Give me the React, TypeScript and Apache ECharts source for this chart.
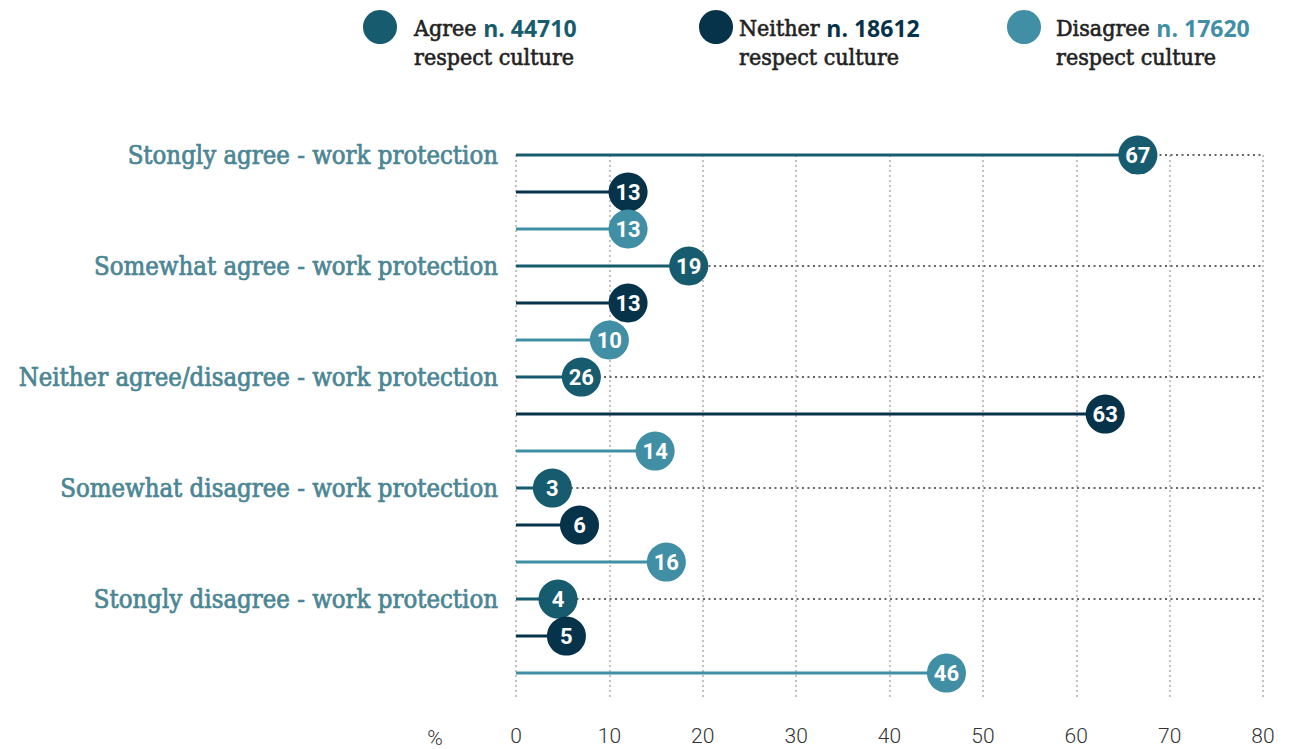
import React, { useEffect, useRef } from "react";
import * as echarts from "echarts";

const categories = [
  "Stongly agree - work protection",
  "Somewhat agree - work protection",
  "Neither agree/disagree - work protection",
  "Somewhat disagree - work protection",
  "Stongly disagree - work protection",
];
const groups = ["Agree", "Neither", "Disagree"];
const groupCounts = ["n. 44710", "n. 18612", "n. 17620"];
const groupColors = ["#175b6e", "#06334a", "#418fa5"];
// positions (x, %), and printed labels
const agreeValues = [66.6, 18.5, 7.0, 3.9, 4.5];
const agreeLabels = ["67", "19", "26", "3", "4"];
const neitherValues = [12.0, 12.0, 63.1, 6.8, 5.4];
const neitherLabels = ["13", "13", "63", "6", "5"];
const disagreeValues = [12.0, 10.0, 14.9, 16.1, 46.1];
const disagreeLabels = ["13", "10", "14", "16", "46"];
const xTicks = [0, 10, 20, 30, 40, 50, 60, 70, 80];

const FONT_SERIF = "'DejaVu Serif Condensed', 'DejaVu Serif', serif";
const FONT_AXIS = "Roboto, 'Liberation Sans Narrow', sans-serif";
const CAT_COLOR = "#4b8694";

export default function App() {
  const ref = useRef<HTMLDivElement>(null);
  useEffect(() => {
    document.body.style.margin = "0";
    const chart = echarts.init(ref.current!, null, { renderer: "svg" });
    const valueSets = [agreeValues, neitherValues, disagreeValues];
    const labelSets = [agreeLabels, neitherLabels, disagreeLabels];
    const rows: any[] = [];
    categories.forEach((_, ci) => {
      groups.forEach((_, gi) => {
        const row = ci * 3 + gi;
        rows.push({
          value: [valueSets[gi][ci], row, labelSets[gi][ci], gi],
          itemStyle: { color: groupColors[gi], opacity: 1 },
        });
      });
    });
    const xMax = xTicks[xTicks.length - 1];
    const guideRows = categories.map((_, ci) => [0, ci * 3]);

    const legendGraphics: any[] = [];
    const legendCircleX = [380, 716, 1024];
    const legendTextX = [414, 739, 1056];
    groups.forEach((g, gi) => {
      legendGraphics.push({
        type: "circle",
        shape: { cx: legendCircleX[gi], cy: 27, r: 17 },
        style: { fill: groupColors[gi] },
      });
      legendGraphics.push({
        type: "text",
        x: legendTextX[gi],
        y: 28,
        style: {
          text: `{a|${g} }{b|${groupCounts[gi]}}`,
          verticalAlign: "middle",
          rich: {
            a: {
              fontFamily: FONT_SERIF,
              fontSize: 23,
              fill: "#222",
              fontWeight: "normal",
              stroke: "#222",
              lineWidth: 0.6,
            },
            b: { fontFamily: "'Open Sans', sans-serif", fontSize: 23, fill: groupColors[gi], fontWeight: "bold" },
          },
        },
      });
      legendGraphics.push({
        type: "text",
        x: legendTextX[gi],
        y: 57,
        style: {
          text: "respect culture",
          fontFamily: FONT_SERIF,
          fontSize: 23,
          fontWeight: "normal",
          fill: "#222",
          stroke: "#222",
          lineWidth: 0.6,
          verticalAlign: "middle",
        },
      });
    });
    legendGraphics.push({
      type: "text",
      x: 435,
      y: 738,
      style: {
        text: "%",
        fontFamily: FONT_AXIS,
        fontSize: 21,
        fontWeight: 300,
        fill: "#333",
        align: "center",
        verticalAlign: "middle",
      },
    });

    chart.setOption({
      animation: false,
      grid: { left: 516, right: 31, top: 155, bottom: 50, containLabel: false },
      xAxis: {
        type: "value",
        min: 0,
        max: xMax,
        interval: 10,
        axisLine: { show: false },
        axisTick: { show: false },
        axisLabel: { color: "#333", fontSize: 21, fontWeight: 300, fontFamily: FONT_AXIS, margin: 26 },
        splitLine: { show: true, lineStyle: { color: "#c2c2c2", width: 2, type: [2, 3] } },
      },
      yAxis: {
        type: "value",
        inverse: true,
        min: 0,
        max: 14.7,
        interval: 3,
        axisLine: { show: false },
        axisTick: { show: false },
        splitLine: { show: false },
        axisLabel: {
          showMaxLabel: false,
          margin: 18,
          color: CAT_COLOR,
          textBorderColor: CAT_COLOR,
          textBorderWidth: 0.7,
          fontSize: 25.5,
          fontWeight: "normal",
          fontFamily: FONT_SERIF,
          formatter: (v: number) => (v % 3 === 0 && v / 3 < categories.length ? categories[v / 3] : ""),
        },
      },
      graphic: legendGraphics,
      series: [
        {
          type: "custom",
          silent: true,
          z: 1,
          data: guideRows,
          renderItem: (params: any, api: any) => {
            const row = api.value(1);
            const a = api.coord([0, row]);
            const b = api.coord([xMax, row]);
            return {
              type: "line",
              shape: { x1: a[0], y1: a[1], x2: b[0], y2: b[1] },
              style: { stroke: "#666", lineWidth: 2, lineDash: [2, 3.5] },
            };
          },
        },
        {
          type: "custom",
          silent: true,
          z: 2,
          data: rows.map((r) => r.value),
          renderItem: (params: any, api: any) => {
            const v = api.value(0);
            const row = api.value(1);
            const gi = api.value(3);
            const a = api.coord([0, row]);
            const b = api.coord([v, row]);
            return {
              type: "line",
              shape: { x1: a[0], y1: a[1], x2: b[0], y2: b[1] },
              style: { stroke: groupColors[gi], lineWidth: 3 },
            };
          },
        },
        {
          type: "scatter",
          z: 3,
          symbol: "circle",
          symbolSize: 39,
          data: rows,
          itemStyle: { opacity: 1 },
          label: {
            show: true,
            position: "inside",
            color: "#fff",
            fontSize: 22,
            fontWeight: "bold",
            fontFamily: FONT_AXIS,
            formatter: (p: any) => p.value[2],
          },
        },
      ],
    });
    return () => chart.dispose();
  }, []);
  return <div ref={ref} style={{ width: 1294, height: 749 }} />;
}
